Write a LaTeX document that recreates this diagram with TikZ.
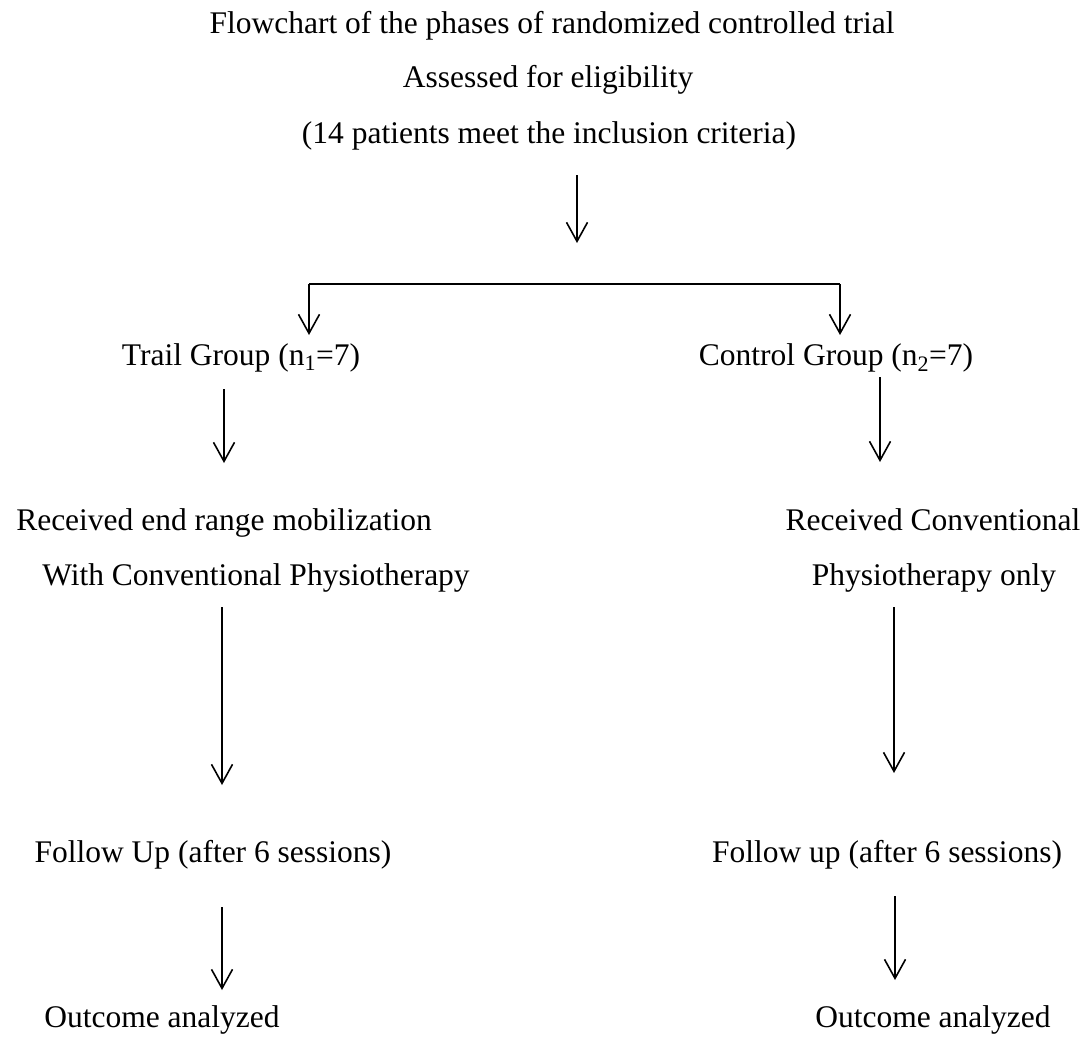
\documentclass[tikz,border=0pt]{standalone}
\usepackage{fontspec}
\setmainfont{Liberation Serif}
\usetikzlibrary{arrows.meta}
\begin{document}
\begin{tikzpicture}[x=1pt,y=-1pt,
  txt/.style={anchor=base,inner sep=0pt,font=\fontsize{31.5}{38}\selectfont},
  arr/.style={line width=1.6pt,-{Straight Barb[length=19pt,width=21pt,line width=1.6pt]}},
  barline/.style={line width=2.2pt}]
\useasboundingbox (0,0) rectangle (1091,1036);
% texts
\node[txt] (title) at (552,33) {Flowchart of the phases of randomized controlled trial};
\node[txt] (assess) at (548,87) {Assessed for eligibility};
\node[txt] (incl) at (549,143) {(14 patients meet the inclusion criteria)};
\node[txt] (trail) at (241,365) {Trail Group (n\textsubscript{1}=7)};
\node[txt] (control) at (836,365) {Control Group (n\textsubscript{2}=7)};
\node[txt] (recL1) at (224,530) {Received end range mobilization};
\node[txt] (recL2) at (256,585) {With Conventional Physiotherapy};
\node[txt] (recR1) at (933,530) {Received Conventional};
\node[txt] (recR2) at (934,585) {Physiotherapy only};
\node[txt] (follL) at (213,862) {Follow Up (after 6 sessions)};
\node[txt] (follR) at (887,862) {Follow up (after 6 sessions)};
\node[txt] (outL) at (162,1027) {Outcome analyzed};
\node[txt] (outR) at (933,1027) {Outcome analyzed};
% connector points
\coordinate (a0) at (577,175);
\coordinate (a1) at (577,243);
\coordinate (bl) at (309,284);
\coordinate (br) at (840,284);
\coordinate (blT) at (309,335);
\coordinate (brT) at (840,335);
\coordinate (l1s) at (224,389);
\coordinate (l1e) at (224,463);
\coordinate (r1s) at (880,377);
\coordinate (r1e) at (880,462);
\coordinate (l2s) at (222,607);
\coordinate (l2e) at (222,785);
\coordinate (r2s) at (894,607);
\coordinate (r2e) at (894,773);
\coordinate (l3s) at (222,907);
\coordinate (l3e) at (222,990);
\coordinate (r3s) at (895,896);
\coordinate (r3e) at (895,980);
% connectors
\draw[arr] (a0) -- (a1);
\draw[barline] (bl) -- (br);
\draw[arr] (bl) -- (blT);
\draw[arr] (br) -- (brT);
\draw[arr] (l1s) -- (l1e);
\draw[arr] (r1s) -- (r1e);
\draw[arr] (l2s) -- (l2e);
\draw[arr] (r2s) -- (r2e);
\draw[arr] (l3s) -- (l3e);
\draw[arr] (r3s) -- (r3e);
\end{tikzpicture}
\end{document}
